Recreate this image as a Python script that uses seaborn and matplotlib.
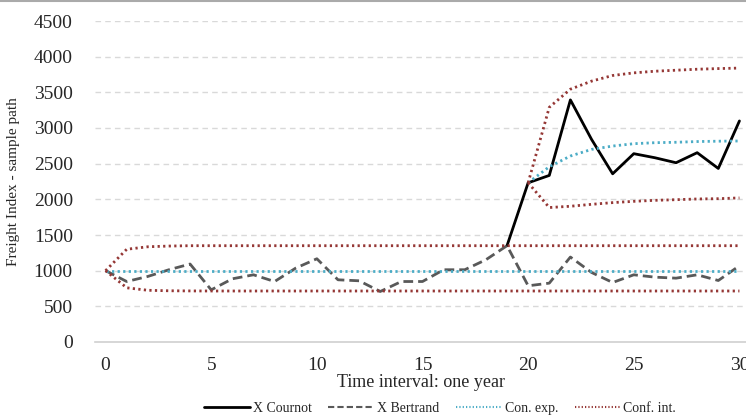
import numpy as np
import pandas as pd
import matplotlib
matplotlib.use("Agg")
import matplotlib.pyplot as plt
from matplotlib.lines import Line2D
import seaborn as sns

# Data
t = list(range(31))
bertrand = [1000, 848, 919, 1013, 1093, 731, 886, 942, 848, 1036, 1167, 872, 858, 708, 848,
            848, 1013, 1013, 1153, 1350, 788, 825, 1191, 975, 834, 942, 909, 895, 942, 862, 1069]
t_cournot = list(range(19, 31))
cournot = [1350, 2232, 2335, 3394, 2841, 2358, 2640, 2583, 2513, 2654, 2433, 3099]

con_exp_b = [1000, 1000, 1000, 1000, 1000, 1000, 1000, 1000, 1000, 1000, 1000, 1000, 1000, 1000, 1000,
             1000, 1000, 1000, 1000, 1000, 1000, 1000, 1000, 1000, 1000, 1000, 1000, 1000, 1000, 1000, 1000]
upper_b = [1000, 1300, 1335, 1345, 1350, 1350, 1350, 1350, 1350, 1350, 1350, 1350, 1350, 1350, 1350,
           1350, 1350, 1350, 1350, 1350, 1350, 1350, 1350, 1350, 1350, 1350, 1350, 1350, 1350, 1350, 1350]
lower_b = [1000, 760, 725, 718, 716, 715, 715, 715, 715, 715, 715, 715, 715, 715, 715,
           715, 715, 715, 715, 715, 715, 715, 715, 715, 715, 715, 715, 715, 715, 715, 715]

t_c = list(range(20, 31))
con_exp_c = [2232, 2457, 2607, 2700, 2747, 2780, 2794, 2800, 2810, 2815, 2818]
upper_c = [2232, 3290, 3544, 3657, 3736, 3773, 3796, 3810, 3824, 3833, 3840]
lower_c = [2232, 1885, 1903, 1930, 1954, 1972, 1986, 1995, 2005, 2009, 2020]

blue = "#4BACC6"
red = "#953735"

sns.set_style("white")
plt.rcParams['font.family'] = ['Liberation Serif', 'DejaVu Serif']

fig = plt.figure(figsize=(7.46, 4.17), dpi=100)
ax = fig.add_axes([95 / 746, 1 - 342 / 417, (750 - 95) / 746, (342 - 21) / 417])

# Gridlines
for v in range(500, 4501, 500):
    ax.axhline(v, color="#d9d9d9", lw=1, dashes=(4, 3), zorder=0)

sns.lineplot(x=t_cournot, y=cournot, ax=ax, color="black", lw=2)
sns.lineplot(x=t, y=bertrand, ax=ax, color="#595959", lw=2, dashes=False, linestyle=(0, (3.5, 1.8)))
sns.lineplot(x=t, y=con_exp_b, ax=ax, color=blue, lw=2, linestyle=(0, (0.8, 1.2)))
sns.lineplot(x=t_c, y=con_exp_c, ax=ax, color=blue, lw=2, linestyle=(0, (0.8, 1.2)))
for ys, xs in [(upper_b, t), (lower_b, t), (upper_c, t_c), (lower_c, t_c)]:
    sns.lineplot(x=xs, y=ys, ax=ax, color=red, lw=2, linestyle=(0, (0.8, 1.2)))

ax.set_xlim(-0.5, 30.5)
ax.set_ylim(0, 4500)
ax.set_yticks(range(0, 4501, 500))
ax.set_xticks(range(0, 31, 5))
ax.set_xticks(np.arange(-0.5, 30.6, 5), minor=True)
ax.tick_params(axis='y', length=0, labelsize=14, pad=16)
ax.tick_params(axis='x', which='major', length=0, labelsize=14, pad=11)
ax.tick_params(axis='x', which='minor', length=5, color="#d0d0d0", width=1, direction='out')
for s in ['left', 'right', 'top']:
    ax.spines[s].set_visible(False)
ax.spines['bottom'].set_color("#d0d0d0")
ax.spines['bottom'].set_linewidth(1.2)

ax.set_ylabel("Freight Index - sample path", fontsize=11)
ax.yaxis.set_label_coords(-0.115, 0.5)
ax.set_xlabel("Time interval: one year", fontsize=13)
ax.xaxis.set_label_coords(0.498, -0.1)

handles = [
    Line2D([], [], color="black", lw=2),
    Line2D([], [], color="#595959", lw=1.5, linestyle=(0, (3, 1.5))),
    Line2D([], [], color=blue, lw=1.5, linestyle=(0, (0.6, 1))),
    Line2D([], [], color=red, lw=1.5, linestyle=(0, (0.6, 1))),
]
labels = ["X Cournot", "X Bertrand", "Con. exp.", "Conf. int."]
fig.legend(handles, labels, loc='center', bbox_to_anchor=(0.59, 0.02), ncol=4, frameon=False,
           fontsize=10, handlelength=3.3, handletextpad=0.2, columnspacing=1.2)

fig.add_artist(Line2D([0, 1], [0.997, 0.997], color="#aaaaaa", lw=1.5, transform=fig.transFigure))

fig.savefig("out.png", dpi=100)
